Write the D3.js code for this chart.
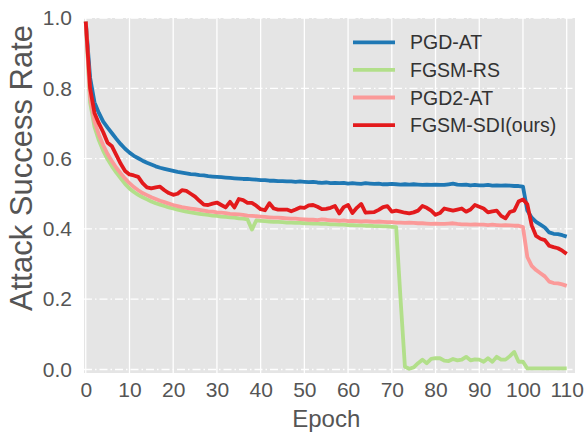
<!DOCTYPE html>
<html>
<head>
<meta charset="utf-8">
<script src="https://cdn.jsdelivr.net/npm/d3@7"></script>
<style>
  body { margin: 0; background: #fff; }
  svg { display: block; font-family: "Liberation Sans", Arial, sans-serif; }
</style>
</head>
<body>
<div id="chart"></div>
<script>
const epochs = d3.range(0, 111);
const xTicks = [0, 10, 20, 30, 40, 50, 60, 70, 80, 90, 100, 110];
const yTicks = [0.0, 0.2, 0.4, 0.6, 0.8, 1.0];

const pgdAT = [
  0.99, 0.83, 0.76, 0.73, 0.705, 0.688, 0.672, 0.656, 0.641, 0.628,
  0.617, 0.608, 0.601, 0.594, 0.588, 0.583, 0.578, 0.574, 0.571, 0.568,
  0.565, 0.562, 0.56, 0.558, 0.556, 0.555, 0.553, 0.552, 0.55, 0.549,
  0.548, 0.547, 0.546, 0.545, 0.544, 0.543, 0.542, 0.542, 0.541, 0.54,
  0.539, 0.539, 0.537, 0.537, 0.536, 0.536, 0.535, 0.535, 0.534, 0.535,
  0.534, 0.533, 0.534, 0.532, 0.531, 0.532, 0.53, 0.531, 0.53, 0.531,
  0.529, 0.53, 0.529, 0.528, 0.53, 0.529, 0.528, 0.529, 0.527, 0.527,
  0.528, 0.527, 0.526, 0.527, 0.526, 0.527, 0.526, 0.525, 0.526, 0.525,
  0.526, 0.525, 0.525, 0.527, 0.529, 0.526, 0.525, 0.526, 0.524, 0.525,
  0.524, 0.524, 0.525, 0.523, 0.524, 0.523, 0.524, 0.523, 0.522, 0.522,
  0.52, 0.452, 0.432, 0.42, 0.412, 0.404, 0.39, 0.386, 0.385, 0.382,
  0.378
];

const fgsmRS = [
  0.99, 0.76, 0.69, 0.652, 0.622, 0.598, 0.578, 0.56, 0.544, 0.528,
  0.515, 0.505, 0.497, 0.49, 0.484, 0.478, 0.473, 0.469, 0.465, 0.461,
  0.458, 0.455, 0.452, 0.449, 0.447, 0.445, 0.443, 0.441, 0.44, 0.438,
  0.437, 0.435, 0.434, 0.433, 0.432, 0.43, 0.429, 0.427, 0.398, 0.424,
  0.423, 0.422, 0.421, 0.42, 0.42, 0.419, 0.418, 0.418, 0.417, 0.417,
  0.416, 0.416, 0.415, 0.415, 0.414, 0.414, 0.413, 0.413, 0.412, 0.412,
  0.411, 0.411, 0.41, 0.41, 0.409, 0.409, 0.408, 0.408, 0.407, 0.407,
  0.406, 0.405, 0.2, 0.008, 0.002, 0.006, 0.018, 0.028, 0.018, 0.03,
  0.032, 0.032, 0.025, 0.024, 0.03, 0.026, 0.028, 0.036, 0.026, 0.029,
  0.028, 0.022, 0.032, 0.022, 0.036, 0.028, 0.028, 0.038, 0.05, 0.022,
  0.022, 0.003, 0.003, 0.003, 0.003, 0.003, 0.003, 0.003, 0.003, 0.003,
  0.003
];

const pgd2AT = [
  0.99, 0.775, 0.705, 0.668, 0.638, 0.613, 0.592, 0.574, 0.558, 0.543,
  0.53, 0.519, 0.51, 0.502, 0.496, 0.49, 0.485, 0.48, 0.476, 0.472,
  0.468, 0.465, 0.462, 0.46, 0.458, 0.456, 0.454, 0.452, 0.45, 0.449,
  0.447, 0.446, 0.445, 0.443, 0.442, 0.441, 0.44, 0.438, 0.437, 0.436,
  0.435, 0.434, 0.433, 0.432, 0.432, 0.431, 0.43, 0.429, 0.429, 0.428,
  0.427, 0.426, 0.426, 0.425, 0.427, 0.426, 0.424, 0.424, 0.423, 0.424,
  0.422, 0.423, 0.422, 0.421, 0.422, 0.421, 0.42, 0.421, 0.42, 0.419,
  0.419, 0.418, 0.418, 0.417, 0.418, 0.417, 0.416, 0.416, 0.415, 0.414,
  0.415, 0.414, 0.414, 0.415, 0.416, 0.414, 0.413, 0.413, 0.412, 0.413,
  0.412, 0.412, 0.411, 0.412, 0.411, 0.41, 0.411, 0.41, 0.409, 0.409,
  0.405, 0.32, 0.295, 0.283, 0.274, 0.265, 0.25, 0.246, 0.245, 0.242,
  0.238
];

const fgsmSDI = [
  0.99, 0.80, 0.73, 0.70, 0.675, 0.645, 0.635, 0.61, 0.585, 0.565,
  0.555, 0.552, 0.548, 0.53, 0.518, 0.515, 0.518, 0.52, 0.51, 0.502,
  0.497, 0.5, 0.51, 0.508, 0.5, 0.492, 0.48, 0.469, 0.468, 0.472,
  0.475, 0.468, 0.461, 0.477, 0.461, 0.485, 0.482, 0.474, 0.474, 0.466,
  0.456, 0.453, 0.473, 0.458, 0.455, 0.455, 0.455, 0.45, 0.455, 0.461,
  0.46, 0.467, 0.468, 0.463, 0.456, 0.457, 0.46, 0.465, 0.444, 0.462,
  0.468, 0.445, 0.46, 0.471, 0.446, 0.447, 0.448, 0.454, 0.462, 0.465,
  0.449, 0.452, 0.449, 0.446, 0.444, 0.447, 0.452, 0.465, 0.46, 0.452,
  0.44, 0.445, 0.458, 0.455, 0.452, 0.455, 0.458, 0.449, 0.455, 0.468,
  0.463, 0.458, 0.447, 0.45, 0.452, 0.437, 0.43, 0.448, 0.452, 0.478,
  0.484, 0.47, 0.41, 0.38, 0.372, 0.368, 0.352, 0.348, 0.345, 0.338,
  0.329
];

const series = [
  {name: "PGD-AT", values: pgdAT, color: "#1f78b4"},
  {name: "FGSM-RS", values: fgsmRS, color: "#b2df8a"},
  {name: "PGD2-AT", values: pgd2AT, color: "#fb9a99"},
  {name: "FGSM-SDI(ours)", values: fgsmSDI, color: "#e31a1c"}
];

const width = 587, height = 434;
const margin = {top: 18, right: 12, bottom: 61, left: 84};

const svg = d3.select("#chart").append("svg")
  .attr("width", width)
  .attr("height", height);

const x = d3.scaleLinear()
  .domain([-0.4, 111.9])
  .range([margin.left, width - margin.right]);

const y = d3.scaleLinear()
  .domain([-0.01, 1.0])
  .range([height - margin.bottom, margin.top]);

// panel background
svg.append("rect")
  .attr("x", margin.left)
  .attr("y", margin.top)
  .attr("width", width - margin.right - margin.left)
  .attr("height", height - margin.bottom - margin.top)
  .attr("fill", "#e5e5e5");

// grid: vertical solid, horizontal dash-dot
svg.append("g")
  .selectAll("line")
  .data(xTicks)
  .join("line")
    .attr("x1", d => x(d))
    .attr("x2", d => x(d))
    .attr("y1", margin.top)
    .attr("y2", height - margin.bottom)
    .attr("stroke", "#fff")
    .attr("stroke-width", 1.3);

svg.append("g")
  .selectAll("line")
  .data(yTicks)
  .join("line")
    .attr("x1", margin.left)
    .attr("x2", width - margin.right)
    .attr("y1", d => y(d))
    .attr("y2", d => y(d))
    .attr("stroke", "#fff")
    .attr("stroke-width", 1.3)
    .attr("stroke-dasharray", "8,3,1.5,3");

const xAxis = g => g
  .attr("transform", `translate(0,${height - margin.bottom})`)
  .call(d3.axisBottom(x).tickValues(xTicks).tickSize(0).tickPadding(9).tickFormat(d3.format("d")))
  .call(g => g.select(".domain").remove())
  .call(g => g.selectAll("text").attr("fill", "#555").attr("font-size", 21).attr("font-family", null));

const yAxis = g => g
  .attr("transform", `translate(${margin.left},0)`)
  .call(d3.axisLeft(y).tickValues(yTicks).tickSize(0).tickPadding(12).tickFormat(d3.format(".1f")))
  .call(g => g.select(".domain").remove())
  .call(g => g.selectAll("text").attr("fill", "#555").attr("font-size", 21).attr("font-family", null));

svg.append("g").call(xAxis);
svg.append("g").call(yAxis);

svg.append("text")
  .attr("x", x(55))
  .attr("y", 427)
  .attr("text-anchor", "middle")
  .attr("fill", "#555")
  .attr("font-size", 24)
  .text("Epoch");

svg.append("text")
  .attr("transform", `translate(32,168) rotate(-90)`)
  .attr("text-anchor", "middle")
  .attr("fill", "#555")
  .attr("font-size", 31)
  .text("Attack Success Rate");

const line = d3.line()
  .x((d, i) => x(epochs[i]))
  .y(d => y(d));

svg.append("g")
  .selectAll("path")
  .data(series)
  .join("path")
    .attr("fill", "none")
    .attr("stroke", d => d.color)
    .attr("stroke-width", 3.8)
    .attr("stroke-linejoin", "round")
    .attr("stroke-linecap", "butt")
    .attr("d", d => line(d.values));

// legend
const legend = svg.append("g")
  .selectAll("g")
  .data(series)
  .join("g")
    .attr("transform", (d, i) => `translate(353,${42.3 + i * 27.6})`);

legend.append("line")
  .attr("x1", 0)
  .attr("x2", 42)
  .attr("stroke", d => d.color)
  .attr("stroke-width", 3.8);

legend.append("text")
  .attr("x", 57)
  .attr("y", 7)
  .attr("fill", "#333")
  .attr("font-size", 19.5)
  .text(d => d.name);
</script>
</body>
</html>
